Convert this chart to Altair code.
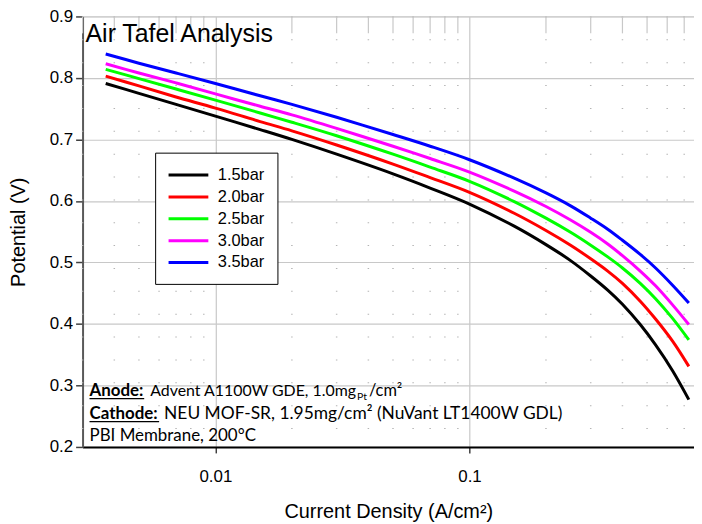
import altair as alt
import pandas as pd

# ---- data ----
current = [0.0037, 0.005, 0.007, 0.01, 0.015, 0.02, 0.03, 0.05, 0.07, 0.1,
           0.15, 0.2, 0.25, 0.3, 0.35, 0.4, 0.47, 0.54, 0.63, 0.73]
v_15 = [0.791, 0.775, 0.757, 0.738, 0.716, 0.700, 0.676, 0.644, 0.621, 0.595,
        0.559, 0.529, 0.503, 0.478, 0.455, 0.432, 0.399, 0.366, 0.324, 0.277]
v_20 = [0.803, 0.787, 0.769, 0.751, 0.729, 0.714, 0.691, 0.660, 0.638, 0.614,
        0.580, 0.552, 0.528, 0.506, 0.486, 0.466, 0.437, 0.408, 0.372, 0.331]
v_25 = [0.814, 0.799, 0.782, 0.764, 0.743, 0.728, 0.706, 0.676, 0.655, 0.632,
        0.599, 0.572, 0.549, 0.528, 0.509, 0.491, 0.466, 0.441, 0.409, 0.374]
v_30 = [0.823, 0.808, 0.792, 0.774, 0.754, 0.740, 0.718, 0.689, 0.669, 0.647,
        0.616, 0.591, 0.569, 0.549, 0.530, 0.511, 0.486, 0.462, 0.431, 0.399]
v_35 = [0.839, 0.824, 0.808, 0.791, 0.771, 0.757, 0.736, 0.708, 0.689, 0.667,
        0.637, 0.613, 0.592, 0.572, 0.554, 0.536, 0.513, 0.491, 0.463, 0.434]

series_names = ["1.5bar", "2.0bar", "2.5bar", "3.0bar", "3.5bar"]
series_colors = ["#000000", "#ff0000", "#00ff00", "#ff00ff", "#0000ff"]

x_ticks = [0.01, 0.1]
y_ticks = [0.2, 0.3, 0.4, 0.5, 0.6, 0.7, 0.8, 0.9]
minor_x = [0.003, 0.004, 0.005, 0.006, 0.007, 0.008, 0.009,
           0.02, 0.03, 0.04, 0.05, 0.06, 0.07, 0.08, 0.09,
           0.2, 0.3, 0.4, 0.5, 0.6, 0.7]

# ---- tables ----
rows = []
for name, vals in zip(series_names, [v_15, v_20, v_25, v_30, v_35]):
    for c, v in zip(current, vals):
        rows.append({"current": c, "potential": v, "series": name})
df = pd.DataFrame(rows)
minor_df = pd.DataFrame({"x": minor_x})

W, H = 615, 433
FONT = "Liberation Sans"
NOTE = "Lato"

xscale = alt.Scale(type="log", domain=[0.003, 0.765], nice=False)
yscale = alt.Scale(domain=[0.2, 0.9], nice=False)

xaxis = alt.Axis(values=x_ticks, format="~g", title="Current Density (A/cm²)",
                 grid=True, gridColor="#c8c8c8", gridWidth=1.2,
                 tickSize=6, tickColor="#404040", tickWidth=1.5,
                 labelPadding=16, labelFontSize=17, labelFont=FONT, labelColor="#000",
                 titleFont=FONT, titleFontSize=20, titleFontWeight="normal", titleColor="#000",
                 titleY=71, titleBaseline="alphabetic",
                 domain=True, domainColor="#000", domainWidth=2)
yaxis = alt.Axis(values=y_ticks, format=".1f", title="Potential (V)",
                 grid=True, gridColor="#c8c8c8", gridWidth=1.2,
                 tickSize=7, tickColor="#404040", tickWidth=1.5,
                 labelPadding=3, labelFontSize=17, labelFont=FONT, labelColor="#000",
                 titleFont=FONT, titleFontSize=20, titleFontWeight="normal", titleColor="#000",
                 titleX=-54, titleBaseline="bottom",
                 domain=True, domainColor="#595959", domainWidth=2)

minor_dots = alt.Chart(minor_df).mark_rule(color="#b4b4b4", strokeWidth=1.5,
                                           strokeDash=[1, 22]).encode(
    x=alt.X("x:Q", scale=xscale, axis=xaxis))
minor_top = alt.Chart(minor_df).mark_rule(color="#c8c8c8", strokeWidth=1.2).encode(
    x=alt.X("x:Q", scale=xscale), y=alt.value(0), y2=alt.value(17))

lines = alt.Chart(df).mark_line(strokeWidth=3, interpolate="catmull-rom").encode(
    x=alt.X("current:Q", scale=xscale, axis=xaxis),
    y=alt.Y("potential:Q", scale=yscale, axis=yaxis),
    color=alt.Color("series:N",
                    scale=alt.Scale(domain=series_names, range=series_colors),
                    legend=alt.Legend(title=None, orient="none", legendX=73, legendY=137,
                                      fillColor="#fff", strokeColor="#000",
                                      padding=13, rowPadding=4,
                                      symbolType="M-2.5,0H2.5", symbolSize=256,
                                      symbolStrokeWidth=3, symbolOffset=11,
                                      labelOffset=20,
                                      labelFont=FONT, labelFontSize=16.5, labelColor="#000")),
    order="current:Q")

def txt(s, x, y, size=17, weight="normal", font=NOTE, baseline="alphabetic"):
    return alt.Chart(pd.DataFrame({"t": [s]})).mark_text(
        align="left", baseline=baseline, fontSize=size, fontWeight=weight,
        font=font, color="#000").encode(text="t:N", x=alt.value(x), y=alt.value(y))

def uline(x1, x2, y):
    return alt.Chart(pd.DataFrame({"a": [0]})).mark_rule(color="#000", strokeWidth=1.3).encode(
        x=alt.value(x1), x2=alt.value(x2), y=alt.value(y))

title_txt = txt("Air Tafel Analysis", 3, 26, size=25, font=FONT)
notes = [
    txt("Anode:", 7, 382, weight="bold"),
    uline(7, 62, 384.5),
    txt("Advent A1100W GDE, 1.0mg", 68, 382, size=16),
    txt("Pt", 276, 386, size=10.5),
    txt("/cm²", 288, 382, size=16.5),
    txt("Cathode:", 7, 405, weight="bold"),
    uline(7, 77, 407.5),
    txt("NEU MOF-SR, 1.95mg/cm² (NuVant LT1400W GDL)", 82, 405, size=17.5),
    txt("PBI Membrane, 200°C", 7, 427),
]

chart = alt.layer(minor_dots, minor_top, lines, title_txt, *notes).properties(
    width=W, height=H,
    padding={"left": 75, "top": 7, "right": 0, "bottom": 74},
    autosize=alt.AutoSizeParams(type="none"),
).configure_view(stroke="#000", strokeWidth=2).configure(background="#ffffff")

chart.save("out.html", embed_options={"renderer": "svg", "actions": False})
